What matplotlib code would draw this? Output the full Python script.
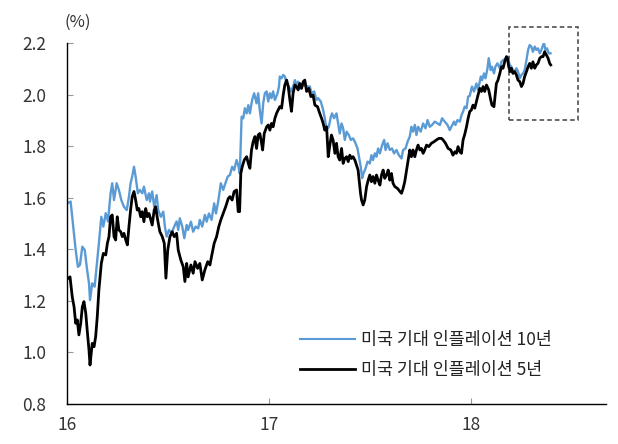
import matplotlib.pyplot as plt
from matplotlib.patches import Rectangle

plt.rcParams['font.family'] = ['Noto Sans CJK KR', 'DejaVu Sans']

# 미국 기대 인플레이션 10년 (x: 연도, y: %)
t10 = [16.001, 16.018, 16.026, 16.035, 16.043, 16.054, 16.064, 16.076, 16.088, 16.098,
       16.109, 16.114, 16.125, 16.137, 16.150, 16.158, 16.170, 16.180, 16.192, 16.203,
       16.216, 16.224, 16.233, 16.246, 16.257, 16.269, 16.282, 16.296, 16.307, 16.315,
       16.323, 16.332, 16.340, 16.351, 16.361, 16.373, 16.381, 16.395, 16.406, 16.411,
       16.422, 16.432, 16.444, 16.452, 16.465, 16.477, 16.485, 16.494, 16.505, 16.518,
       16.531, 16.543, 16.551, 16.559, 16.571, 16.581, 16.593, 16.600, 16.614, 16.625,
       16.637, 16.650, 16.658, 16.670, 16.683, 16.692, 16.703, 16.716, 16.729, 16.738,
       16.749, 16.762, 16.774, 16.782, 16.796, 16.807, 16.818, 16.828, 16.840, 16.848,
       16.856, 16.861, 16.865, 16.873, 16.881, 16.890, 16.898, 16.906, 16.917, 16.927,
       16.939, 16.947, 16.955, 16.964, 16.972, 16.980, 16.989, 16.997, 17.005, 17.013,
       17.021, 17.030, 17.043, 17.050, 17.054, 17.063, 17.071, 17.079, 17.088, 17.099,
       17.109, 17.120, 17.129, 17.137, 17.145, 17.158, 17.170, 17.178, 17.192, 17.203,
       17.211, 17.224, 17.236, 17.244, 17.257, 17.269, 17.277, 17.286, 17.297, 17.307,
       17.313, 17.323, 17.335, 17.343, 17.351, 17.360, 17.368, 17.376, 17.385, 17.396,
       17.406, 17.417, 17.426, 17.439, 17.446, 17.455, 17.462, 17.469, 17.479, 17.489,
       17.500, 17.508, 17.516, 17.525, 17.533, 17.541, 17.550, 17.561, 17.571, 17.578,
       17.588, 17.599, 17.610, 17.620, 17.632, 17.644, 17.657, 17.665, 17.677, 17.687,
       17.698, 17.706, 17.714, 17.723, 17.731, 17.739, 17.752, 17.764, 17.776, 17.786,
       17.797, 17.808, 17.822, 17.835, 17.847, 17.858, 17.871, 17.885, 17.896, 17.904,
       17.917, 17.924, 17.934, 17.946, 17.954, 17.962, 17.970, 17.979, 17.987, 17.995,
       18.006, 18.016, 18.028, 18.036, 18.050, 18.056, 18.066, 18.073, 18.083, 18.089,
       18.099, 18.105, 18.115, 18.122, 18.132, 18.144, 18.152, 18.160, 18.168, 18.177,
       18.185, 18.193, 18.201, 18.209, 18.218, 18.226, 18.234, 18.243, 18.251, 18.259,
       18.267, 18.276, 18.284, 18.292, 18.300, 18.308, 18.317, 18.325, 18.333, 18.342,
       18.350, 18.358, 18.363, 18.370, 18.378, 18.386, 18.395]
v10 = [1.578, 1.585, 1.526, 1.460, 1.397, 1.332, 1.339, 1.410, 1.397, 1.330,
       1.268, 1.203, 1.268, 1.255, 1.358, 1.423, 1.526, 1.488, 1.540, 1.508,
       1.617, 1.656, 1.591, 1.656, 1.630, 1.591, 1.565, 1.552, 1.604, 1.656,
       1.682, 1.720, 1.682, 1.617, 1.630, 1.617, 1.643, 1.591, 1.617, 1.585,
       1.624, 1.565, 1.610, 1.552, 1.526, 1.546, 1.488, 1.449, 1.475, 1.462,
       1.488, 1.508, 1.475, 1.520, 1.488, 1.443, 1.494, 1.475, 1.507, 1.468,
       1.488, 1.481, 1.514, 1.488, 1.533, 1.507, 1.539, 1.514, 1.578, 1.539,
       1.585, 1.656, 1.630, 1.650, 1.682, 1.688, 1.720, 1.707, 1.746, 1.727,
       1.694, 1.811, 1.914, 1.908, 1.947, 1.927, 1.959, 1.927, 1.979, 2.005,
       1.966, 2.005, 1.940, 1.888, 1.966, 2.005, 2.012, 1.973, 2.005, 1.986,
       2.012, 1.979, 2.005, 2.031, 2.070, 2.063, 2.076, 2.070, 2.043, 2.031,
       2.012, 2.031, 2.056, 2.037, 2.050, 2.024, 2.037, 2.035, 2.031, 2.031,
       2.005, 2.012, 1.979, 1.986, 1.973, 1.940, 1.908, 1.862, 1.875, 1.914,
       1.927, 1.908, 1.927, 1.888, 1.849, 1.888, 1.869, 1.824, 1.856, 1.843,
       1.824, 1.830, 1.817, 1.791, 1.759, 1.720, 1.676, 1.695, 1.714, 1.740,
       1.733, 1.765, 1.746, 1.772, 1.759, 1.791, 1.772, 1.804, 1.824, 1.785,
       1.811, 1.785, 1.791, 1.772, 1.785, 1.765, 1.752, 1.785, 1.791, 1.817,
       1.837, 1.875, 1.856, 1.882, 1.843, 1.875, 1.856, 1.888, 1.869, 1.901,
       1.875, 1.882, 1.895, 1.888, 1.882, 1.908, 1.895, 1.882, 1.862, 1.875,
       1.895, 1.882, 1.901, 1.895, 1.920, 1.934, 1.953, 1.947, 1.992, 1.995,
       2.031, 2.012, 2.043, 2.018, 2.070, 2.056, 2.082, 2.063, 2.102, 2.141,
       2.095, 2.108, 2.082, 2.108, 2.121, 2.102, 2.127, 2.134, 2.136, 2.147,
       2.141, 2.115, 2.108, 2.095, 2.089, 2.102, 2.089, 2.063, 2.076, 2.082,
       2.095, 2.134, 2.173, 2.192, 2.186, 2.166, 2.186, 2.173, 2.179, 2.160,
       2.173, 2.192, 2.199, 2.173, 2.179, 2.160, 2.160]

# 미국 기대 인플레이션 5년
t5 = [16.005, 16.015, 16.026, 16.035, 16.043, 16.051, 16.059, 16.068, 16.076, 16.084,
      16.093, 16.100, 16.109, 16.114, 16.125, 16.134, 16.142, 16.150, 16.158, 16.170,
      16.180, 16.192, 16.200, 16.208, 16.216, 16.224, 16.233, 16.241, 16.249, 16.257,
      16.266, 16.274, 16.282, 16.291, 16.299, 16.307, 16.315, 16.323, 16.332, 16.340,
      16.348, 16.356, 16.365, 16.373, 16.381, 16.390, 16.398, 16.406, 16.411, 16.422,
      16.432, 16.439, 16.449, 16.460, 16.472, 16.482, 16.490, 16.499, 16.510, 16.521,
      16.531, 16.543, 16.551, 16.564, 16.576, 16.584, 16.593, 16.600, 16.614, 16.625,
      16.634, 16.647, 16.658, 16.670, 16.683, 16.697, 16.708, 16.716, 16.729, 16.741,
      16.752, 16.762, 16.774, 16.786, 16.799, 16.807, 16.818, 16.828, 16.840, 16.848,
      16.855, 16.861, 16.868, 16.878, 16.890, 16.898, 16.906, 16.914, 16.922, 16.931,
      16.939, 16.947, 16.955, 16.964, 16.969, 16.977, 16.989, 16.997, 17.005, 17.013,
      17.021, 17.030, 17.038, 17.046, 17.054, 17.063, 17.071, 17.079, 17.088, 17.096,
      17.104, 17.112, 17.120, 17.129, 17.137, 17.145, 17.153, 17.162, 17.170, 17.178,
      17.187, 17.198, 17.208, 17.219, 17.228, 17.241, 17.252, 17.261, 17.269, 17.277,
      17.286, 17.294, 17.302, 17.310, 17.318, 17.327, 17.335, 17.343, 17.351, 17.360,
      17.368, 17.376, 17.385, 17.393, 17.401, 17.409, 17.417, 17.426, 17.434, 17.442,
      17.447, 17.454, 17.459, 17.467, 17.475, 17.484, 17.492, 17.500, 17.508, 17.516,
      17.525, 17.533, 17.541, 17.550, 17.558, 17.566, 17.574, 17.583, 17.591, 17.599,
      17.607, 17.615, 17.624, 17.637, 17.649, 17.657, 17.665, 17.673, 17.682, 17.690,
      17.698, 17.706, 17.714, 17.723, 17.731, 17.739, 17.748, 17.756, 17.764, 17.772,
      17.781, 17.792, 17.805, 17.818, 17.830, 17.842, 17.855, 17.863, 17.875, 17.888,
      17.901, 17.912, 17.921, 17.929, 17.937, 17.946, 17.954, 17.962, 17.970, 17.979,
      17.987, 17.995, 18.003, 18.011, 18.020, 18.028, 18.036, 18.045, 18.053, 18.061,
      18.069, 18.078, 18.089, 18.099, 18.105, 18.115, 18.122, 18.127, 18.135, 18.144,
      18.152, 18.160, 18.168, 18.177, 18.182, 18.188, 18.195, 18.201, 18.209, 18.218,
      18.226, 18.234, 18.243, 18.251, 18.259, 18.267, 18.276, 18.284, 18.292, 18.300,
      18.308, 18.317, 18.325, 18.333, 18.342, 18.350, 18.358, 18.366, 18.375, 18.383,
      18.391, 18.396]
v5 = [1.287, 1.293, 1.216, 1.177, 1.113, 1.126, 1.068, 1.113, 1.177, 1.197,
      1.152, 1.087, 1.009, 0.951, 1.035, 1.022, 1.061, 1.139, 1.242, 1.345,
      1.384, 1.378, 1.423, 1.449, 1.526, 1.533, 1.449, 1.436, 1.526, 1.475,
      1.468, 1.449, 1.462, 1.436, 1.417, 1.488, 1.552, 1.604, 1.624, 1.591,
      1.552, 1.558, 1.526, 1.546, 1.507, 1.558, 1.526, 1.539, 1.526, 1.494,
      1.552, 1.565, 1.514, 1.468, 1.449, 1.423, 1.288, 1.397, 1.449, 1.468,
      1.449, 1.462, 1.397, 1.358, 1.332, 1.275, 1.345, 1.293, 1.339, 1.307,
      1.352, 1.326, 1.345, 1.281, 1.320, 1.352, 1.339, 1.372, 1.423, 1.449,
      1.488, 1.514, 1.539, 1.565, 1.597, 1.604, 1.591, 1.624, 1.630, 1.546,
      1.546, 1.694, 1.720, 1.746, 1.759, 1.733, 1.714, 1.785, 1.817, 1.837,
      1.791, 1.843, 1.849, 1.811, 1.785, 1.849, 1.875, 1.882, 1.862, 1.888,
      1.875, 1.908, 1.927, 1.940, 1.953, 1.947, 1.998, 2.037, 2.056, 2.031,
      1.979, 1.935, 2.005, 2.037, 2.031, 2.018, 2.043, 2.024, 2.050, 2.056,
      2.012, 2.024, 1.992, 1.998, 1.959, 1.953, 1.927, 1.908, 1.888, 1.862,
      1.875, 1.759, 1.804, 1.843, 1.824, 1.772, 1.811, 1.759, 1.746, 1.791,
      1.733, 1.752, 1.759, 1.740, 1.765, 1.752, 1.759, 1.746, 1.727, 1.707,
      1.668, 1.617, 1.591, 1.572, 1.591, 1.643, 1.668, 1.688, 1.662, 1.682,
      1.656, 1.688, 1.668, 1.649, 1.688, 1.707, 1.675, 1.688, 1.707, 1.668,
      1.694, 1.656, 1.643, 1.636, 1.624, 1.617, 1.636, 1.662, 1.707, 1.746,
      1.785, 1.759, 1.785, 1.759, 1.785, 1.804, 1.785, 1.791, 1.772, 1.785,
      1.804, 1.798, 1.811, 1.817, 1.824, 1.830, 1.830, 1.824, 1.811, 1.791,
      1.785, 1.765, 1.778, 1.772, 1.798, 1.778, 1.772, 1.824, 1.845, 1.875,
      1.908, 1.934, 1.940, 1.959, 1.947, 1.973, 1.998, 2.024, 2.012, 2.031,
      2.012, 2.037, 2.018, 1.979, 1.959, 1.953, 2.005, 2.043, 2.056, 2.082,
      2.108, 2.102, 2.127, 2.147, 2.141, 2.108, 2.089, 2.102, 2.082, 2.089,
      2.076, 2.056, 2.050, 2.031, 2.043, 2.070, 2.089, 2.108, 2.121, 2.102,
      2.127, 2.102, 2.115, 2.121, 2.141, 2.147, 2.147, 2.166, 2.153, 2.141,
      2.121, 2.115]

labels = ['미국 기대 인플레이션 10년', '미국 기대 인플레이션 5년']
xticks = [16, 17, 18]
yticks = [0.8, 1.0, 1.2, 1.4, 1.6, 1.8, 2.0, 2.2]

# 최근 구간 강조 박스 (x0, y0, x1, y1)
box = (18.19, 1.90, 18.53, 2.263)

fig = plt.figure(figsize=(6.18, 4.44), dpi=100)
ax = fig.add_axes([0.1084, 0.0901, 0.8722, 0.8131])

ax.plot(t10, v10, color='#5b9bd5', lw=1.7, label=labels[0])
ax.plot(t5, v5, color='black', lw=2.0, label=labels[1])

ax.add_patch(Rectangle((box[0], box[1]), box[2] - box[0], box[3] - box[1],
                       fill=False, edgecolor='#404040', lw=1.1,
                       linestyle=(0, (3, 2)), clip_on=False))

ax.set_xlim(16, 18.67)
ax.set_ylim(0.8, 2.2)
ax.set_xticks(xticks)
ax.set_xticklabels([str(x) for x in xticks])
ax.set_yticks(yticks)
ax.set_yticklabels([f'{y:.1f}' for y in yticks])

for s in ['top', 'right']:
    ax.spines[s].set_visible(False)
for s in ['left', 'bottom']:
    ax.spines[s].set_linewidth(1.0)
ax.tick_params(axis='both', direction='in', length=4, width=0.8, color='#999999',
               labelsize=12.5, labelcolor='#333333')
ax.tick_params(axis='y', pad=15)
ax.tick_params(axis='x', pad=9)

ax.text(-0.005, 1.033, '(%)', transform=ax.transAxes, fontsize=12, color='#333333',
        ha='left', va='bottom')

leg = ax.legend(loc='lower left', bbox_to_anchor=(0.432, 0.068), frameon=False,
                fontsize=12.5, handlelength=3.2, handletextpad=0.3,
                labelspacing=0.7, borderpad=0, borderaxespad=0)
leg.get_lines()[0].set_linewidth(1.5)
leg.get_lines()[1].set_linewidth(2.0)
for txt in leg.get_texts():
    txt.set_color('#222222')

fig.savefig('out.png', dpi=100)
